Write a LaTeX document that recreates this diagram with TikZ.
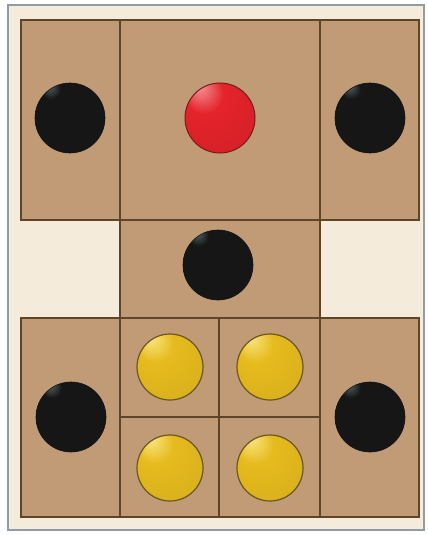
\documentclass[tikz,border=0pt]{standalone}
\usetikzlibrary{shapes.geometric}
\definecolor{board}{HTML}{C09B76}
\definecolor{cream}{HTML}{F4EBDB}
\definecolor{lineb}{HTML}{5E4529}
\definecolor{frame}{HTML}{8F9BA6}
\definecolor{bk}{HTML}{161616}
\definecolor{bkhl}{HTML}{5C6E72}
\definecolor{rd}{HTML}{E5232B}
\definecolor{rdhl}{HTML}{F79AA0}
\definecolor{rdline}{HTML}{7A1A16}
\definecolor{yl}{HTML}{E6BB1E}
\definecolor{ylhl}{HTML}{FBEA8A}
\definecolor{ylline}{HTML}{6A5622}
\pgfdeclareradialshading{blackshade}{\pgfpoint{-16bp}{24bp}}{color(0bp)=(bkhl); color(7bp)=(bk); color(50bp)=(bk)}
\pgfdeclareradialshading{redshade}{\pgfpoint{-16bp}{24bp}}{color(0bp)=(rdhl); color(14bp)=(rd); color(45bp)=(rd!90!black); color(50bp)=(rd!80!black)}
\pgfdeclareradialshading{yellowshade}{\pgfpoint{-16bp}{24bp}}{color(0bp)=(ylhl); color(14bp)=(yl); color(45bp)=(yl!92!black); color(50bp)=(yl!85!black)}
\tikzset{
  cell/.style={fill=board, draw=lineb, line width=2pt},
  blackball/.style={circle, minimum size=70pt, inner sep=0pt, shading=blackshade, draw=bk!80!black, line width=0.6pt},
  redball/.style={circle, minimum size=70pt, inner sep=0pt, shading=redshade, draw=rdline, line width=1pt},
  yellowball/.style={circle, minimum size=66pt, inner sep=0pt, shading=yellowshade, draw=ylline, line width=1.2pt}
}
\begin{document}
\begin{tikzpicture}[x=1pt,y=-1pt]
\useasboundingbox (0,0) rectangle (428,535);
\fill[white] (0,0) rectangle (428,535);
\draw[fill=cream, draw=frame, line width=2.5pt] (8,5) rectangle (424,530);
% top region
\draw[cell] (21,20) rectangle (120,220);
\draw[cell] (120,20) rectangle (320,220);
\draw[cell] (320,20) rectangle (419,220);
% middle
\draw[cell] (120,220) rectangle (320,318);
% bottom region
\draw[cell] (21,318) rectangle (120,517);
\draw[cell] (320,318) rectangle (419,517);
\draw[cell] (120,318) rectangle (219,417);
\draw[cell] (219,318) rectangle (320,417);
\draw[cell] (120,417) rectangle (219,517);
\draw[cell] (219,417) rectangle (320,517);
% balls
\node[blackball] (b1) at (70,118) {};
\node[redball] (r1) at (220,118) {};
\node[blackball] (b2) at (370,118) {};
\node[blackball] (b3) at (218,265) {};
\node[blackball] (b4) at (71,417) {};
\node[blackball] (b5) at (370,417) {};
\node[yellowball] (y1) at (170,367) {};
\node[yellowball] (y2) at (270,367) {};
\node[yellowball] (y3) at (170,468) {};
\node[yellowball] (y4) at (270,468) {};
\end{tikzpicture}
\end{document}
